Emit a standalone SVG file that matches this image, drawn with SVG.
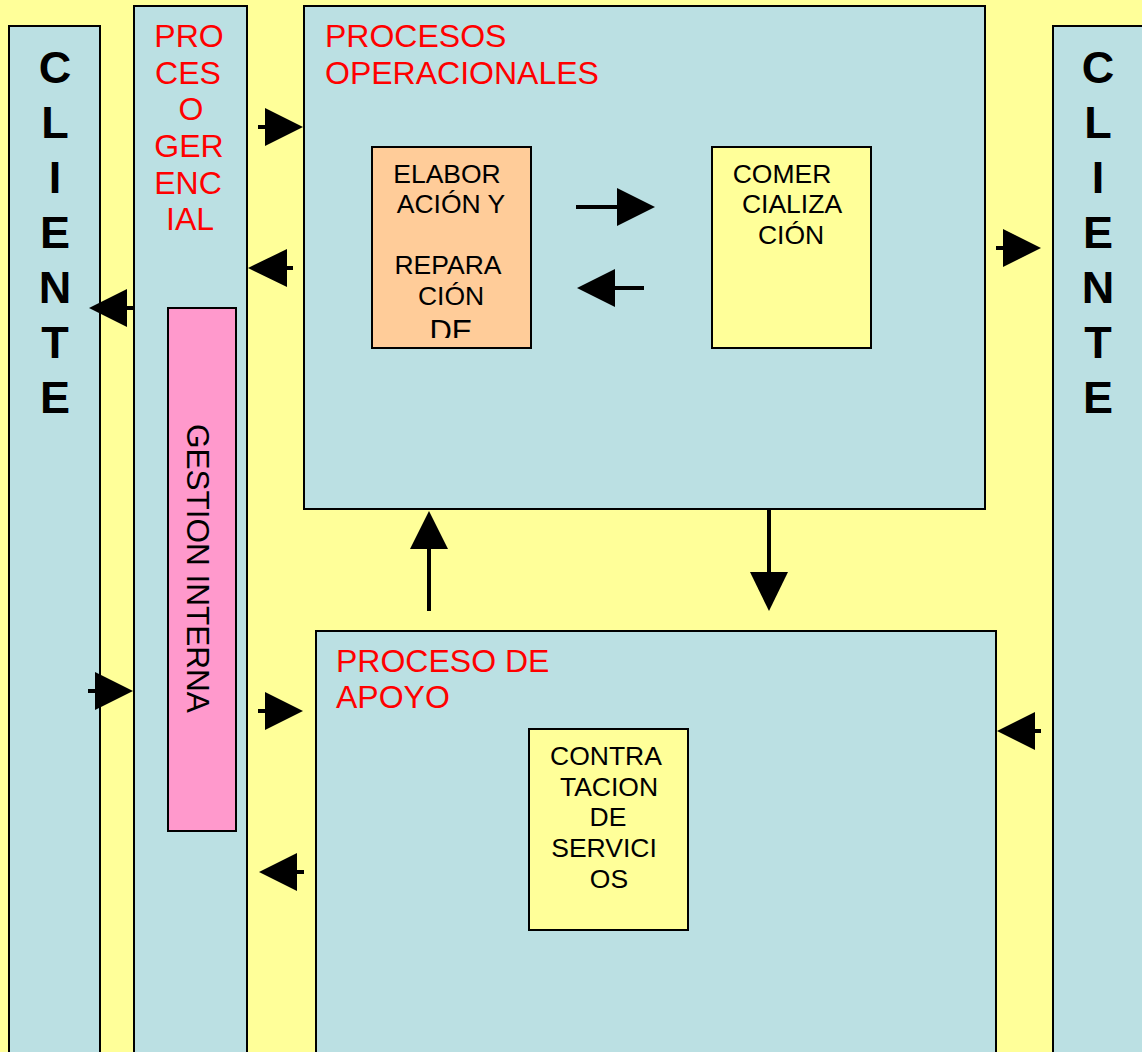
<svg xmlns="http://www.w3.org/2000/svg" width="1142" height="1052" viewBox="0 0 1142 1052">
<style>
.blue{fill:#BBE0E3;stroke:#000;stroke-width:2}
.red{fill:#FF0000;font-family:"Liberation Sans",Arial,sans-serif;font-size:32px}
.blk{fill:#000;font-family:"Liberation Sans",Arial,sans-serif;font-size:26.5px}
.cli{fill:#000;font-family:"Liberation Sans",Arial,sans-serif;font-size:45px;font-weight:bold;text-anchor:middle}
.ln{stroke:#000;stroke-width:4;fill:none}
.hd{fill:#000}
</style>
<defs>
<clipPath id="clipElab"><rect x="372" y="147" width="159" height="191"/></clipPath>
</defs>
<rect x="0" y="0" width="1142" height="1052" fill="#FFFF99"/>

<g id="cliente-izq">
<rect class="blue" x="9" y="26" width="91" height="1040"/>
<text class="cli" x="55"><tspan x="55" y="83">C</tspan><tspan x="55" y="138">L</tspan><tspan x="55" y="193">I</tspan><tspan x="55" y="248">E</tspan><tspan x="55" y="303">N</tspan><tspan x="55" y="358">T</tspan><tspan x="55" y="413">E</tspan></text>
</g>

<g id="cliente-der">
<rect class="blue" x="1053" y="26" width="100" height="1040"/>
<text class="cli" x="1098"><tspan x="1098" y="83">C</tspan><tspan x="1098" y="138">L</tspan><tspan x="1098" y="193">I</tspan><tspan x="1098" y="248">E</tspan><tspan x="1098" y="303">N</tspan><tspan x="1098" y="358">T</tspan><tspan x="1098" y="413">E</tspan></text>
</g>

<g id="proceso-gerencial">
<rect class="blue" x="134" y="6" width="113" height="1060"/>
<text class="red" text-anchor="middle"><tspan x="189" y="47">PRO</tspan><tspan x="188" y="84">CES</tspan><tspan x="191" y="120">O</tspan><tspan x="189" y="157">GER</tspan><tspan x="188" y="194">ENC</tspan><tspan x="190" y="230">IAL</tspan></text>
</g>

<g id="gestion-interna">
<rect x="168" y="308" width="68" height="523" fill="#FF99CC" stroke="#000" stroke-width="2"/>
<text class="blk" style="font-size:31.5px" transform="translate(187,424) rotate(90)" x="0" y="0">GESTION INTERNA</text>
</g>

<g id="procesos-operacionales">
<rect class="blue" x="304" y="6" width="681" height="503"/>
<text class="red"><tspan x="325" y="47">PROCESOS</tspan><tspan x="325" y="84">OPERACIONALES</tspan></text>
</g>

<g id="elaboracion">
<rect x="372" y="147" width="159" height="201" fill="#FFCC99" stroke="#000" stroke-width="2"/>
<text class="blk" clip-path="url(#clipElab)" text-anchor="middle"><tspan x="447" y="183">ELABOR</tspan><tspan x="451" y="213">ACIÓN Y</tspan><tspan x="448" y="274">REPARA</tspan><tspan x="451" y="305">CIÓN</tspan><tspan x="451" y="342" style="font-size:31px">DE</tspan></text>
</g>

<g id="comercializacion">
<rect x="712" y="147" width="159" height="201" fill="#FFFF99" stroke="#000" stroke-width="2"/>
<text class="blk" text-anchor="middle"><tspan x="782" y="183">COMER</tspan><tspan x="792" y="213">CIALIZA</tspan><tspan x="791" y="244">CIÓN</tspan></text>
</g>

<g id="proceso-apoyo">
<rect class="blue" x="316" y="631" width="680" height="440"/>
<text class="red"><tspan x="336" y="672">PROCESO DE</tspan><tspan x="336" y="708">APOYO</tspan></text>
</g>

<g id="contratacion">
<rect x="529" y="729" width="159" height="201" fill="#FFFF99" stroke="#000" stroke-width="2"/>
<text class="blk" text-anchor="middle"><tspan x="606" y="765">CONTRA</tspan><tspan x="609" y="796">TACION</tspan><tspan x="608" y="826">DE</tspan><tspan x="604" y="857">SERVICI</tspan><tspan x="609" y="888">OS</tspan></text>
</g>

<g id="connectors">
<line class="ln" x1="258" y1="127" x2="267" y2="127"/><polygon class="hd" points="265,108 303,127 265,146"/>
<line class="ln" x1="286" y1="268" x2="293" y2="268"/><polygon class="hd" points="287,249 248,268 287,287"/>
<line class="ln" x1="126" y1="308" x2="134" y2="308"/><polygon class="hd" points="127,289 89,308 127,327"/>
<line class="ln" x1="88" y1="691" x2="97" y2="691"/><polygon class="hd" points="95,672 133,691 95,710"/>
<line class="ln" x1="258" y1="711" x2="267" y2="711"/><polygon class="hd" points="265,692 303,711 265,730"/>
<line class="ln" x1="296" y1="872" x2="304" y2="872"/><polygon class="hd" points="297,853 259,872 297,891"/>
<line class="ln" x1="996" y1="248" x2="1005" y2="248"/><polygon class="hd" points="1003,229 1041,248 1003,267"/>
<line class="ln" x1="1034" y1="731" x2="1041" y2="731"/><polygon class="hd" points="1035,712 997,731 1035,750"/>
<line class="ln" x1="576" y1="207" x2="619" y2="207"/><polygon class="hd" points="617,188 655,207 617,226"/>
<line class="ln" x1="613" y1="288" x2="644" y2="288"/><polygon class="hd" points="615,269 577,288 615,307"/>
<line class="ln" x1="429" y1="547" x2="429" y2="611"/><polygon class="hd" points="410,549 429,511 448,549"/>
<line class="ln" x1="769" y1="510" x2="769" y2="574"/><polygon class="hd" points="750,572 769,611 788,572"/>
</g>
</svg>
